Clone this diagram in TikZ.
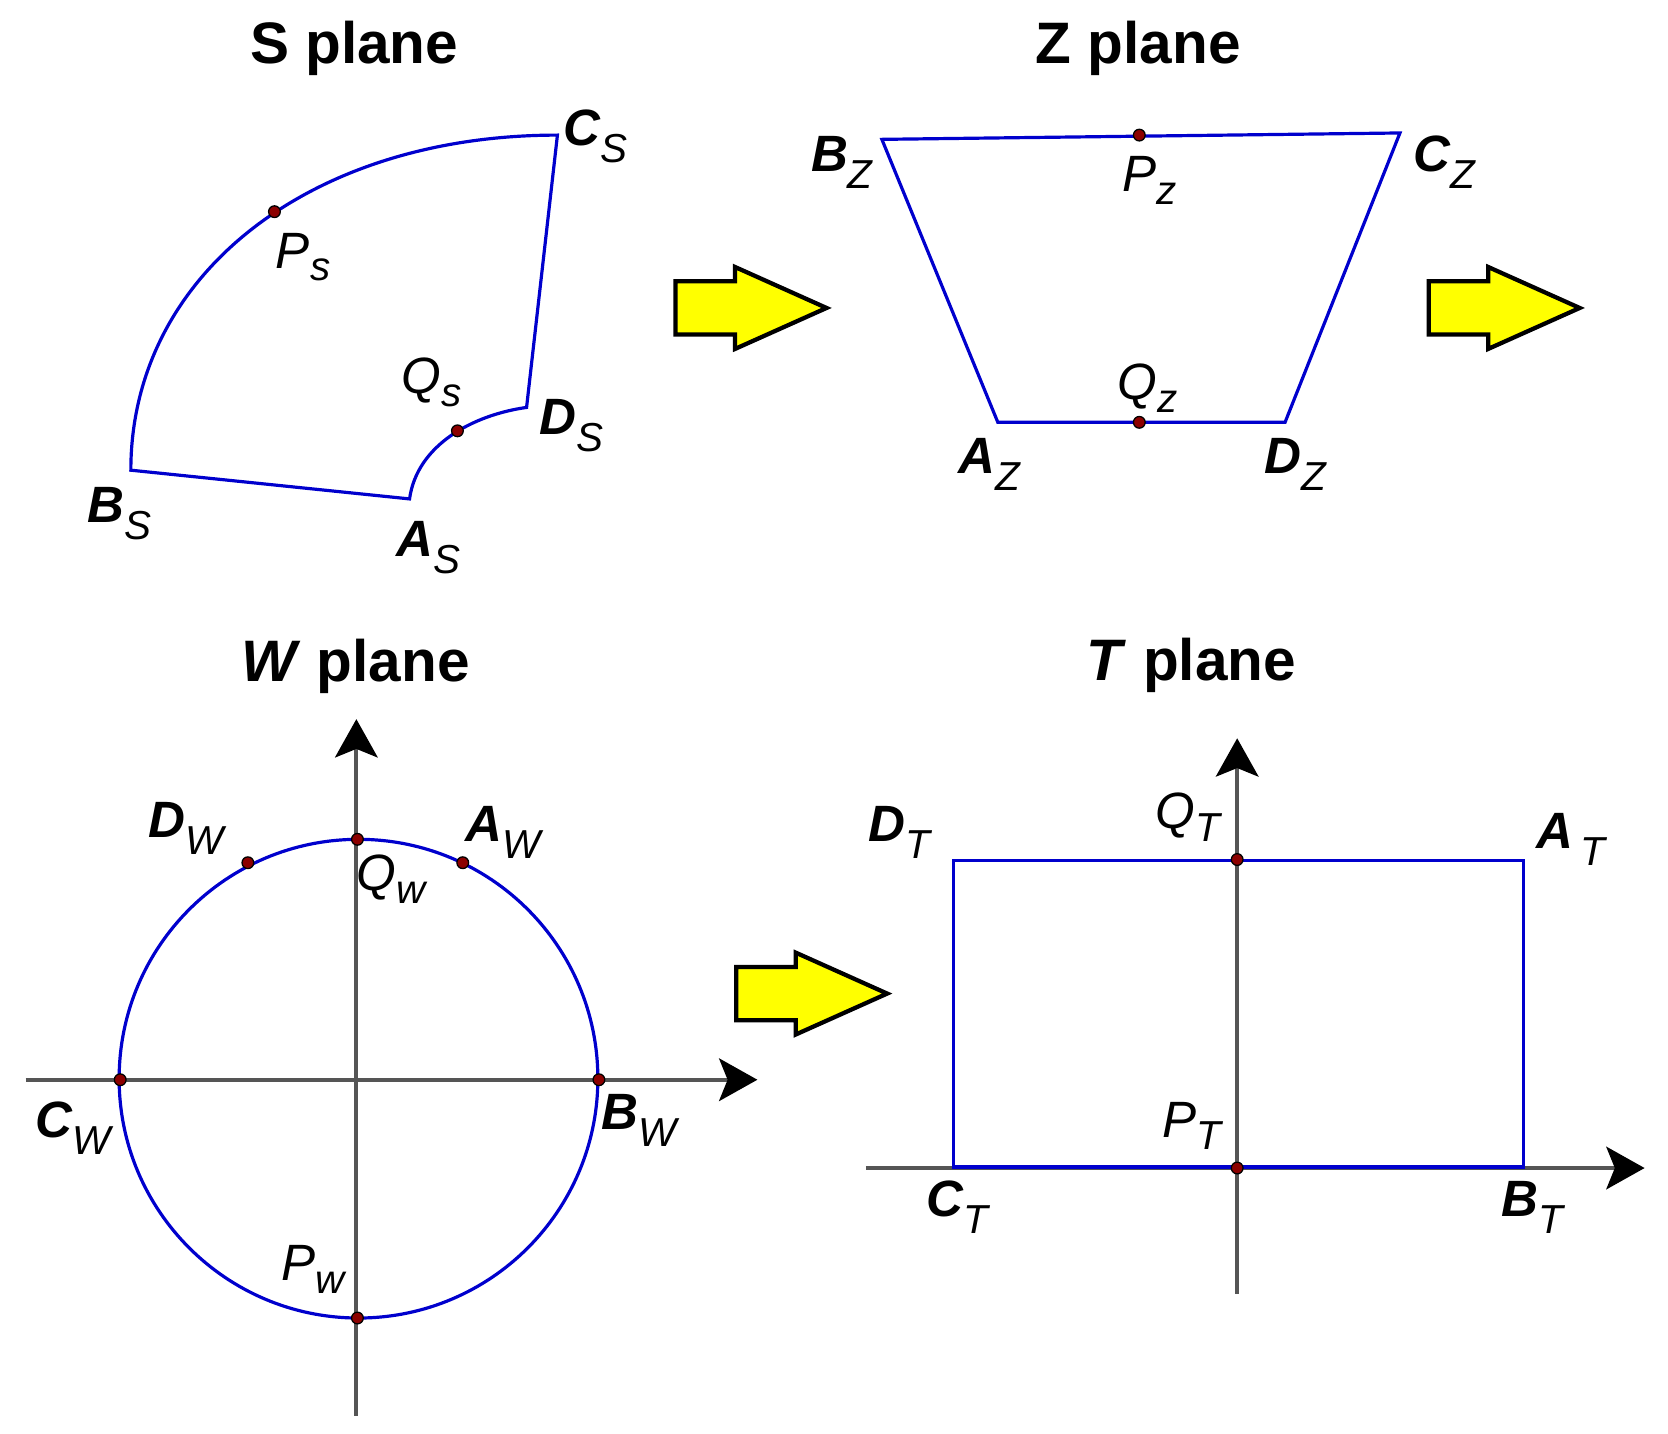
\documentclass[tikz,border=0pt]{standalone}
\usepackage{fontspec}
\setmainfont{Liberation Sans}
\usetikzlibrary{arrows.meta}
\definecolor{edgeblue}{RGB}{0,0,205}
\definecolor{axisgray}{RGB}{85,85,85}
\definecolor{dotred}{RGB}{140,0,0}
\definecolor{arrowyellow}{RGB}{255,255,0}
\newcommand\cornerlbl[2]{{\bfseries #1}\raisebox{-8pt}{\fontsize{19pt}{20pt}\selectfont #2}}
\newcommand\ptlbl[2]{#1\raisebox{-6pt}{\fontsize{19pt}{20pt}\selectfont #2}}
\tikzset{
  plane title/.style={anchor=base, inner sep=0pt, font=\fontsize{27.5pt}{30pt}\selectfont\bfseries},
  ptlabel/.style={anchor=base west, inner sep=0pt, font=\fontsize{24pt}{26pt}\selectfont\itshape},
  blueedge/.style={draw=edgeblue, line width=1.5pt, line join=miter},
  axisline/.style={draw=axisgray, line width=2pt, -{Stealth[length=18pt,width=20pt,inset=4pt,color=black]}},
  dotmark/.style={circle, inner sep=0pt, minimum size=5.5pt, fill=dotred, draw=black, line width=0.6pt},
  blockarrow/.style={fill=arrowyellow, draw=black, line width=2pt, line join=miter},
  yellowarrow/.pic={\draw[blockarrow] (0,-25) -- (56,-25) -- (56,-38.5) -- (142,0) -- (56,38.5) -- (56,25) -- (0,25) -- cycle;}
}
\begin{document}
\begin{tikzpicture}[x=0.5pt,y=-0.5pt]
\useasboundingbox (0,0) rectangle (1568,1348);

% ---------- S plane ----------
\node[plane title] (tS) at (333,60) {S plane};
\coordinate (Bs) at (123,442);
\coordinate (As) at (385,469);
\coordinate (Ds) at (495,383);
\coordinate (Cs) at (524,127);
\draw[blueedge] (Bs) -- (As) .. controls (392,418) and (445,390) .. (Ds) -- (Cs)
   .. controls (291,127) and (123,259) .. (Bs) -- cycle;
\node[dotmark] (Ps) at (258,199) {};
\node[dotmark] (Qs) at (430,405) {};
\node[ptlabel] (lCs) at (529,137) {\cornerlbl{C}{S}};
\node[ptlabel] (lBs) at (82,491) {\cornerlbl{B}{S}};
\node[ptlabel] (lAs) at (372,523) {\cornerlbl{A}{S}};
\node[ptlabel] (lDs) at (507,408) {\cornerlbl{D}{S}};
\node[ptlabel] (lPs) at (259,252) {\ptlbl{P}{s}};
\node[ptlabel] (lQs) at (377,370) {\ptlbl{Q}{s}};

% ---------- arrows ----------
\pic (arrowSZ) at (635,289.5) {yellowarrow};
\pic (arrowZW) at (1343,289.5) {yellowarrow};
\pic (arrowWT) at (692,934) {yellowarrow};

% ---------- Z plane ----------
\node[plane title] (tZ) at (1070,60) {Z plane};
\coordinate (Bz) at (829,131);
\coordinate (Cz) at (1316,125);
\coordinate (Dz) at (1208,397);
\coordinate (Az) at (938,397);
\draw[blueedge] (Bz) -- (Cz) -- (Dz) -- (Az) -- cycle;
\node[dotmark] (Pz) at (1071,127) {};
\node[dotmark] (Qz) at (1071,397) {};
\node[ptlabel] (lBz) at (762,161) {\cornerlbl{B}{Z}};
\node[ptlabel] (lCz) at (1328,161) {\cornerlbl{C}{Z}};
\node[ptlabel] (lPz) at (1055,180) {\ptlbl{P}{z}};
\node[ptlabel] (lQz) at (1050,376) {\ptlbl{Q}{z}};
\node[ptlabel] (lAz) at (901,445) {\cornerlbl{A}{Z}};
\node[ptlabel] (lDz) at (1188,445) {\cornerlbl{D}{Z}};

% ---------- W plane ----------
\node[plane title] (tW) at (334,641) {\textit{W} plane};
\coordinate (wh0) at (24,1015);
\coordinate (wh1) at (712,1015);
\coordinate (wv0) at (335,1331);
\coordinate (wv1) at (335,676);
\draw[axisline] (wh0) -- (wh1);
\draw[axisline] (wv0) -- (wv1);
\coordinate (Wc) at (337,1014);
\draw[blueedge] (Wc) circle[radius=225];
\node[dotmark] (Qw) at (336,789) {};
\node[dotmark] (Pw) at (336,1239) {};
\node[dotmark] (Cw) at (113,1015) {};
\node[dotmark] (Bw) at (563,1015) {};
\node[dotmark] (Dw) at (233,811) {};
\node[dotmark] (Aw) at (435,811) {};
\node[ptlabel] (lDw) at (139,787) {\cornerlbl{D}{W}};
\node[ptlabel] (lAw) at (437,791) {\cornerlbl{A}{W}};
\node[ptlabel] (lQw) at (335,837) {\ptlbl{Q}{w}};
\node[ptlabel] (lCw) at (33,1069) {\cornerlbl{C}{W}};
\node[ptlabel] (lBw) at (565,1062) {\cornerlbl{B}{W}};
\node[ptlabel] (lPw) at (264,1204) {\ptlbl{P}{w}};

% ---------- T plane ----------
\node[plane title] (tT) at (1120,640) {\textit{T} plane};
\coordinate (th0) at (814,1098);
\coordinate (th1) at (1546,1098);
\coordinate (tv0) at (1163,1216);
\coordinate (tv1) at (1163,694);
\draw[axisline] (th0) -- (th1);
\draw[axisline] (tv0) -- (tv1);
\coordinate (Dt) at (896,809);
\coordinate (At) at (1432,809);
\coordinate (Bt) at (1432,1097);
\coordinate (Ct) at (896,1097);
\draw[blueedge] (Ct) -- (Dt) -- (At) -- (Bt) -- cycle;
\node[dotmark] (Qt) at (1163,808) {};
\node[dotmark] (Pt) at (1163,1098) {};
\node[ptlabel] (lDt) at (816,791) {\cornerlbl{D}{T}};
\node[ptlabel] (lQt) at (1086,779) {\ptlbl{Q}{T}};
\node[ptlabel] (lAt) at (1444,798) {\cornerlbl{A}{\,T}};
\node[ptlabel] (lPt) at (1092,1069) {\ptlbl{P}{T}};
\node[ptlabel] (lCt) at (871,1144) {\cornerlbl{C}{T}};
\node[ptlabel] (lBt) at (1411,1144) {\cornerlbl{B}{T}};
\end{tikzpicture}
\end{document}
